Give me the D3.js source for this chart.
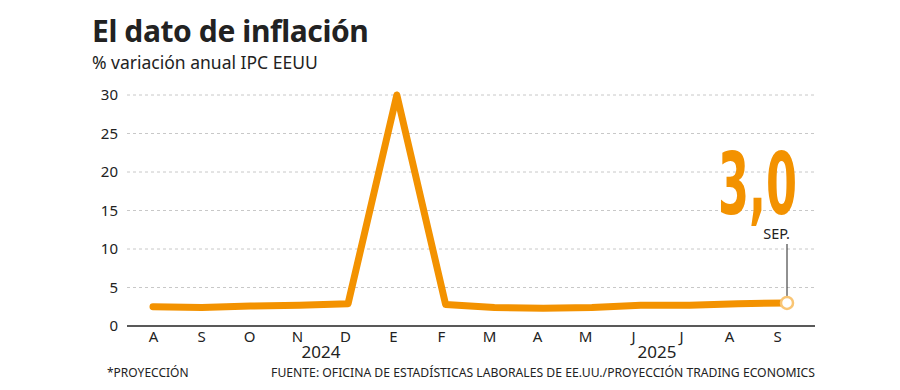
<!DOCTYPE html>
<html><head><meta charset="utf-8">
<script src="https://cdn.jsdelivr.net/npm/d3@7"></script>
<style>body{margin:0;background:#fff;}svg{display:block;font-family:"Noto Sans",sans-serif;}</style>
</head><body><svg id="c" width="900" height="390"></svg>
<script>
const months = ["A","S","O","N","D","E","F","M","A","M","J","J","A","S"];
const values = [2.5,2.4,2.6,2.7,2.9,30,2.8,2.4,2.3,2.4,2.7,2.7,2.9,3.0];
const yTicks = [0,5,10,15,20,25,30];
const years = [{label:"2024", from:3, to:4},{label:"2025", from:10, to:11}];
const highlight = "3,0", highlightMonth = "SEP.";

const svg = d3.select("#c");
const idx = months.map((m,i)=>i);
const x = d3.scalePoint().domain(idx).range([153,787]);
const xl = d3.scalePoint().domain(idx).range([153,777]);
const y = d3.scaleLinear().domain([0,30]).range([326,95]);
const orange = "#f39200";

svg.append("text").attr("x",92).attr("y",42).attr("font-size",30).attr("font-weight",700).attr("fill","#222").attr("letter-spacing",-0.4).text("El dato de inflación");
svg.append("text").attr("x",92).attr("y",69).attr("font-size",17.5).attr("fill","#222").text("% variación anual IPC EEUU");

// grid
svg.append("g").selectAll("line").data(yTicks.filter(d=>d>0)).join("line")
  .attr("x1",127).attr("x2",815).attr("y1",d=>y(d)).attr("y2",d=>y(d))
  .attr("stroke","#c8c8c8").attr("stroke-dasharray","3,3").attr("stroke-width",1);
// y labels
const ya = svg.append("g").attr("transform","translate(127,0)").call(d3.axisLeft(y).tickValues(yTicks).tickSize(0).tickPadding(9));
ya.select(".domain").remove();
ya.selectAll("text").attr("font-size",15).attr("fill","#222").attr("font-family","Noto Sans");
// x axis
svg.append("line").attr("x1",127).attr("x2",815).attr("y1",326).attr("y2",326).attr("stroke","#222").attr("stroke-width",1.5);
const xa = svg.append("g").attr("transform","translate(0,326)").call(d3.axisBottom(xl).tickFormat(i=>months[i]).tickSize(0).tickPadding(5));
xa.select(".domain").remove();
xa.selectAll("text").attr("font-size",15).attr("fill","#222").attr("font-family","Noto Sans");
svg.append("g").selectAll("text").data(years).join("text")
  .attr("x",d=>(xl(d.from)+xl(d.to))/2).attr("y",358).attr("text-anchor","middle")
  .attr("font-size",17).attr("fill","#222").text(d=>d.label);

// line
svg.append("path").datum(values).attr("fill","none").attr("stroke",orange).attr("stroke-width",7)
  .attr("stroke-linejoin","round").attr("stroke-linecap","round")
  .attr("d",d3.line().x((d,i)=>x(i)).y(d=>y(d)));

const li = values.length-1;
svg.append("line").attr("x1",x(li)).attr("x2",x(li)).attr("y1",244).attr("y2",y(values[li])-6).attr("stroke","#222").attr("stroke-width",1);
svg.append("circle").attr("cx",x(li)).attr("cy",y(values[li])).attr("r",6).attr("fill","#fff").attr("stroke","#f9c574").attr("stroke-width",2.5);
svg.append("text").attr("x",x(li)+10).attr("y",214).attr("text-anchor","end")
  .attr("font-family","Liberation Sans Narrow, DejaVu Sans Condensed, sans-serif").attr("font-weight",700)
  .attr("font-size",86).attr("fill",orange).attr("textLength",79).attr("lengthAdjust","spacingAndGlyphs").text(highlight);
svg.append("text").attr("x",x(li)+3).attr("y",239).attr("text-anchor","end").attr("font-size",14.5).attr("fill","#222").text(highlightMonth);

svg.append("text").attr("x",107).attr("y",377).attr("font-size",12).attr("fill","#222").text("*PROYECCIÓN");
svg.append("text").attr("x",815).attr("y",377).attr("text-anchor","end").attr("font-size",12.2).attr("fill","#222").text("FUENTE: OFICINA DE ESTADÍSTICAS LABORALES DE EE.UU./PROYECCIÓN TRADING ECONOMICS");
</script></body></html>
